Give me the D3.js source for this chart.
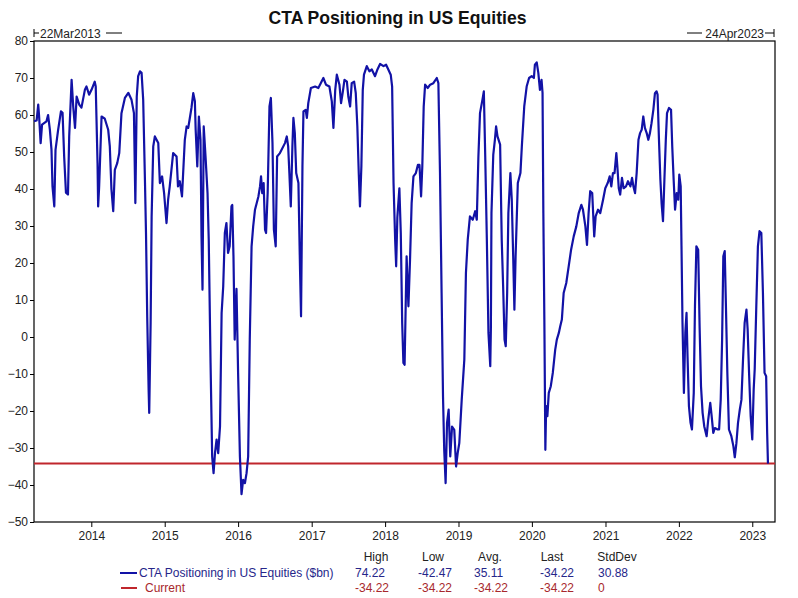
<!DOCTYPE html>
<html>
<head>
<meta charset="utf-8">
<script src="https://cdn.jsdelivr.net/npm/d3@7"></script>
<style>
  body { margin: 0; background: #fff; }
  svg text { font-family: Arial, "Liberation Sans", sans-serif; }
</style>
</head>
<body>
<div id="chart"></div>
<script>
// weekly-ish readings of CTA positioning, $bn
var dates = [
  "2013-03-22","2013-04-04","2013-04-12","2013-04-16","2013-04-24","2013-05-01","2013-05-23","2013-05-31","2013-06-09","2013-06-17",
  "2013-06-22","2013-07-01","2013-07-07","2013-07-20","2013-08-03","2013-08-11","2013-08-19","2013-08-28","2013-09-07","2013-09-13",
  "2013-09-25","2013-10-03","2013-10-12","2013-10-20","2013-11-02","2013-11-13","2013-11-30","2013-12-08","2013-12-21","2014-01-02",
  "2014-01-18","2014-01-23","2014-02-01","2014-02-04","2014-02-09","2014-02-21","2014-03-09","2014-03-26","2014-04-03","2014-04-11",
  "2014-04-20","2014-04-28","2014-05-10","2014-05-20","2014-05-31","2014-06-17","2014-07-04","2014-07-20","2014-08-01","2014-08-08",
  "2014-08-15","2014-08-22","2014-08-31","2014-09-08","2014-09-16","2014-09-25","2014-09-30","2014-10-06","2014-10-13","2014-10-16",
  "2014-10-23","2014-10-28","2014-11-05","2014-11-13","2014-11-30","2014-12-08","2014-12-19","2014-12-29","2015-01-10","2015-01-18",
  "2015-01-26","2015-02-12","2015-03-01","2015-03-08","2015-03-17","2015-03-28","2015-04-11","2015-04-20","2015-04-28","2015-05-06",
  "2015-05-14","2015-05-23","2015-05-31","2015-06-04","2015-06-12","2015-06-20","2015-06-28","2015-07-03","2015-07-08","2015-07-14",
  "2015-07-23","2015-08-02","2015-08-08","2015-08-17","2015-08-25","2015-09-01","2015-09-08","2015-09-16","2015-09-24","2015-10-03",
  "2015-10-11","2015-10-19","2015-10-27","2015-11-04","2015-11-12","2015-11-20","2015-11-29","2015-12-03","2015-12-09","2015-12-15",
  "2015-12-24","2016-01-01","2016-01-10","2016-01-18","2016-01-26","2016-02-04","2016-02-12","2016-02-20","2016-02-28","2016-03-08",
  "2016-03-16","2016-03-25","2016-04-11","2016-04-19","2016-04-24","2016-04-30","2016-05-07","2016-05-14","2016-05-19","2016-05-27",
  "2016-06-05","2016-06-12","2016-06-20","2016-06-27","2016-07-06","2016-07-13","2016-07-27","2016-08-21","2016-08-30","2016-09-06",
  "2016-09-12","2016-09-19","2016-09-27","2016-10-02","2016-10-09","2016-10-16","2016-10-27","2016-11-04","2016-11-09","2016-11-16",
  "2016-11-21","2016-12-02","2016-12-08","2016-12-15","2016-12-28","2017-01-18","2017-02-03","2017-02-15","2017-02-28","2017-03-13",
  "2017-03-30","2017-04-11","2017-04-19","2017-04-28","2017-05-06","2017-05-19","2017-05-27","2017-06-04","2017-06-13","2017-06-25",
  "2017-07-02","2017-07-11","2017-07-19","2017-07-31","2017-08-08","2017-08-16","2017-08-23","2017-08-29","2017-09-05","2017-09-12",
  "2017-09-18","2017-10-02","2017-10-15","2017-10-27","2017-11-12","2017-11-24","2017-12-07","2017-12-24","2018-01-06","2018-01-17",
  "2018-01-29","2018-02-05","2018-02-12","2018-02-20","2018-02-25","2018-03-03","2018-03-13","2018-03-20","2018-03-27","2018-04-02",
  "2018-04-08","2018-04-18","2018-04-27","2018-05-05","2018-05-13","2018-05-22","2018-06-03","2018-06-13","2018-06-21","2018-06-29",
  "2018-07-05","2018-07-12","2018-07-19","2018-08-01","2018-08-13","2018-08-29","2018-09-15","2018-09-23","2018-10-01","2018-10-09",
  "2018-10-16","2018-10-22","2018-10-29","2018-11-05","2018-11-13","2018-11-21","2018-11-30","2018-12-11","2018-12-20","2018-12-28",
  "2019-01-05","2019-01-17","2019-01-30","2019-02-07","2019-02-16","2019-02-27","2019-03-13","2019-03-25","2019-04-02","2019-04-10",
  "2019-04-18","2019-04-30","2019-05-07","2019-05-14","2019-05-22","2019-05-30","2019-06-08","2019-06-11","2019-06-14","2019-06-23",
  "2019-07-01","2019-07-07","2019-07-14","2019-07-27","2019-08-04","2019-08-11","2019-08-18","2019-08-24","2019-08-31","2019-09-06",
  "2019-09-16","2019-09-23","2019-09-30","2019-10-06","2019-10-12","2019-10-23","2019-11-05","2019-11-12","2019-11-24","2019-12-06",
  "2019-12-18","2019-12-31","2020-01-11","2020-01-16","2020-01-25","2020-02-02","2020-02-10","2020-02-18","2020-02-23","2020-02-27",
  "2020-03-03","2020-03-08","2020-03-12","2020-03-18","2020-03-25","2020-04-04","2020-04-14","2020-04-26","2020-05-04","2020-05-14",
  "2020-05-21","2020-05-29","2020-06-07","2020-06-20","2020-07-02","2020-07-14","2020-07-27","2020-08-09","2020-08-21","2020-09-03",
  "2020-09-11","2020-09-23","2020-10-01","2020-10-09","2020-10-17","2020-10-27","2020-11-06","2020-11-13","2020-11-25","2020-12-06",
  "2020-12-20","2020-12-31","2021-01-12","2021-01-22","2021-01-30","2021-02-07","2021-02-15","2021-02-24","2021-03-01","2021-03-08",
  "2021-03-15","2021-03-24","2021-04-01","2021-04-13","2021-04-23","2021-05-05","2021-05-13","2021-05-20","2021-05-28","2021-06-05",
  "2021-06-14","2021-06-22","2021-06-30","2021-07-08","2021-07-16","2021-07-25","2021-08-02","2021-08-10","2021-08-18","2021-08-27",
  "2021-09-04","2021-09-12","2021-09-17","2021-09-24","2021-10-01","2021-10-07","2021-10-14","2021-10-21","2021-10-28","2021-11-03",
  "2021-11-13","2021-11-23","2021-11-29","2021-12-06","2021-12-13","2021-12-21","2021-12-29","2022-01-03","2022-01-10","2022-01-14",
  "2022-01-19","2022-01-26","2022-02-02","2022-02-08","2022-02-13","2022-02-20","2022-02-28","2022-03-07","2022-03-16","2022-03-22",
  "2022-03-29","2022-04-07","2022-04-14","2022-04-21","2022-04-29","2022-05-07","2022-05-19","2022-05-27","2022-06-06","2022-06-13",
  "2022-06-21","2022-06-29","2022-07-13","2022-07-20","2022-07-28","2022-08-04","2022-08-10","2022-08-17","2022-08-23","2022-08-30",
  "2022-09-07","2022-09-19","2022-09-29","2022-10-06","2022-10-14","2022-10-22","2022-10-31","2022-11-08","2022-11-16","2022-11-24",
  "2022-12-03","2022-12-09","2022-12-16","2022-12-24","2023-01-01","2023-01-08","2023-01-13","2023-01-21","2023-01-29","2023-02-06",
  "2023-02-15","2023-02-23","2023-03-03","2023-03-11","2023-03-16","2023-03-20"
];
var positioning = [
  58.3, 58.5, 62.8, 60, 52.4, 57.4, 58.3, 60, 56, 50.6,
  40.7, 35.3, 50.6, 56, 61, 60.6, 48.8, 39, 38.5, 54.2,
  69.5, 62.3, 56.5, 65, 62.8, 62, 66.8, 67.7, 65.5, 66.8,
  69, 67.7, 47, 35.3, 40.7, 59.6, 59, 56, 51.5, 40,
  34, 45.2, 47, 49.7, 60.5, 64.6, 66, 64.1, 60.5, 36.2,
  65, 70.5, 71.8, 71.4, 64.1, 41.6, 28, 5.6, -14.2, -20.5,
  3.8, 32.6, 51.5, 54.2, 52.4, 41.6, 43.4, 38.9, 30.8, 37.1,
  40.7, 49.7, 48.8, 40.7, 42.1, 38, 53.3, 56.9, 56.5, 59.2,
  61.9, 65.9, 63.7, 56, 46.1, 59.6, 53.3, 27.2, 12.8, 56.9,
  48.8, 38.9, 26.3, -7, -32.3, -36.8, -31.4, -27.7, -31.4, -24.2,
  6.5, 13.7, 28.1, 30.8, 22.7, 24.5, 35.3, 35.7, 21.8, -0.7,
  13, -9.7, -32.3, -42.47, -38.6, -39.5, -36.8, -32.3, -0.7, 24.5,
  29.9, 34.4, 38, 40.7, 43.4, 38.9, 41.6, 29, 28.1, 38.9,
  62.3, 64.6, 52.4, 29, 24.5, 48.8, 49.7, 52.4, 54.2, 51.5,
  44.3, 35.3, 51.5, 59.2, 55.1, 44.3, 41.6, 18.2, 5.6, 46.1,
  61, 61.4, 59.2, 63.2, 67.3, 67.7, 67.3, 68.6, 70, 68.2,
  67.7, 63.7, 56.5, 66.8, 70.9, 68.2, 63.2, 66, 69.5, 69,
  65, 62.3, 68.6, 69, 66, 56.9, 44.3, 35.3, 46.1, 66.8,
  70.9, 73.2, 71.8, 72.3, 70.5, 72.3, 73.8, 73.2, 73.6, 72.3,
  70.9, 67.7, 41.6, 26.3, 19.1, 32.4, 40.2, 28.1, 3.8, -7,
  -7.5, 21.8, 8.3, 20.9, 36.2, 43.4, 44.3, 46.5, 46.5, 38,
  46.1, 62.3, 68.2, 67.3, 68.2, 68.6, 70, 68.6, 44.3, 11.9,
  -16, -30.5, -39.5, -23.2, -19.6, -32.3, -24.2, -25.1, -35, -31.4,
  -28.7, -17, -6.1, 17.3, 26.3, 32.6, 31.7, 34, 31.7, 48.8,
  60.5, 64.1, 66.4, 48.8, 26.3, 1.1, -7.9, 2, 33.5, 49.3,
  53.3, 56.9, 54.2, 52, 26.3, 13.7, -0.7, -2.5, 11.9, 33.5,
  44.3, 37.1, 21.8, 7.4, 21.8, 41.6, 44.3, 51.5, 62.3, 67.7,
  70, 70.5, 70, 73.6, 74.22, 71.4, 66.8, 69.5, 66, 33.5,
  4.7, -30.5, -18.7, -21.4, -15.1, -13.3, -9.7, -3.4, -0.7, 1.1,
  2.9, 4.7, 11.9, 14.6, 19.1, 23.6, 27.2, 29.9, 33.5, 35.7,
  34.4, 29.9, 24.9, 33.5, 39.4, 38.9, 27.2, 32.6, 34.4, 33.5,
  37.1, 40.2, 41.6, 43.4, 40.7, 44.3, 44.3, 49.7, 46.1, 40.2,
  38.5, 43, 40.2, 40.7, 42.1, 40.7, 43, 40.7, 38.9, 44.3,
  53.3, 55.1, 56, 59.6, 56.5, 55.1, 53.3, 55.1, 57.8, 61.4,
  65.9, 66.4, 65.5, 53.3, 42.5, 36.2, 31.3, 42.5, 53.3, 60.5,
  61.9, 61.4, 51.5, 42.5, 34.4, 38.9, 37.1, 43.9, 40.7, 24.5,
  3.8, -15.1, 1.1, 6.5, -5.2, -18.7, -23.2, -25, -15.1, 8.3,
  24.5, 23.6, 2.9, -13.3, -20.5, -24.1, -26.8, -22.3, -17.8, -21.4,
  -25.9, -24.6, -25, -25, -17, -0.7, 21.8, 23.2, 8.3, -9.7,
  -25, -26.8, -29.5, -32.5, -28.7, -23.2, -19.6, -17, -6.1, 3.8,
  7.4, 2, -9.7, -21.4, -27.7, -14.2, -8.8, 8.3, 24.5, 28.6,
  28.1, 11.9, -9.7, -10.6, -25.9, -34.22
];
var currentLevel = -34.22;

var yTicks = [80, 70, 60, 50, 40, 30, 20, 10, 0, -10, -20, -30, -40, -50];
var yearTicks = [2014, 2015, 2016, 2017, 2018, 2019, 2020, 2021, 2022, 2023];

var statHeaders = ["High", "Low", "Avg.", "Last", "StdDev"];
var seriesStats = ["74.22", "-42.47", "35.11", "-34.22", "30.88"];
var currentStats = ["-34.22", "-34.22", "-34.22", "-34.22", "0"];
var seriesName = "CTA Positioning in US Equities ($bn)";
var currentName = "Current";

var blue = "#1212a6", red = "#c0262c";
var width = 798, height = 598;
var plotL = 34, plotR = 775, plotT = 41, plotB = 522;

var parse = d3.timeParse("%Y-%m-%d");
var data = dates.map(function (d, i) { return { date: parse(d), value: positioning[i] }; });
var start = parse("2013-03-22"), end = parse("2023-04-24");

var svg = d3.select("#chart").append("svg")
  .attr("width", width).attr("height", height);

var x = d3.scaleTime().domain([start, end]).range([plotL, plotR]);
var y = d3.scaleLinear().domain([-50, 80]).range([plotB, plotT]);

svg.append("text")
  .attr("x", 397.5).attr("y", 24)
  .attr("text-anchor", "middle")
  .attr("font-size", 19).attr("font-weight", "bold")
  .attr("textLength", 258).attr("lengthAdjust", "spacingAndGlyphs")
  .attr("fill", "#111")
  .text("CTA Positioning in US Equities");

svg.append("g")
  .attr("transform", "translate(" + plotL + ",0)")
  .call(d3.axisLeft(y).tickValues(yTicks).tickSize(4).tickPadding(2));
svg.append("g")
  .attr("transform", "translate(0," + plotB + ")")
  .call(d3.axisBottom(x)
    .tickValues(yearTicks.map(function (yr) { return new Date(yr, 0, 1); }))
    .tickFormat(d3.timeFormat("%Y")).tickSize(5).tickPadding(4));
svg.selectAll(".domain").remove();
svg.selectAll(".tick text").attr("font-size", 12).attr("font-family", "Arial, 'Liberation Sans', sans-serif").attr("fill", "#222");
svg.selectAll(".tick line").attr("stroke", "#000");

// frame
svg.append("rect")
  .attr("x", plotL).attr("y", plotT)
  .attr("width", plotR - plotL).attr("height", plotB - plotT)
  .attr("fill", "none").attr("stroke", "#000").attr("stroke-width", 1.2);

// date range markers above the frame
var fmt = d3.timeFormat("%d%b%Y");
var marks = svg.append("g").attr("stroke", "#000").attr("stroke-width", 1);
marks.append("line").attr("x1", x(start)).attr("x2", x(start)).attr("y1", 29).attr("y2", 37);
marks.append("line").attr("x1", x(start)).attr("x2", x(start) + 5).attr("y1", 33).attr("y2", 33);
marks.append("line").attr("x1", x(start) + 72).attr("x2", x(start) + 88).attr("y1", 33).attr("y2", 33);
marks.append("line").attr("x1", x(end) - 1).attr("x2", x(end) - 1).attr("y1", 29).attr("y2", 37);
marks.append("line").attr("x1", x(end) - 10).attr("x2", x(end) - 1).attr("y1", 33).attr("y2", 33);
marks.append("line").attr("x1", x(end) - 88).attr("x2", x(end) - 73).attr("y1", 33).attr("y2", 33);
svg.append("text").attr("x", x(start) + 6).attr("y", 37.5)
  .attr("font-size", 12).attr("fill", "#222").text(fmt(start));
svg.append("text").attr("x", x(end) - 11).attr("y", 37.5).attr("text-anchor", "end")
  .attr("font-size", 12).attr("fill", "#222").text(fmt(end));

// current level
svg.append("line")
  .attr("x1", plotL).attr("x2", plotR)
  .attr("y1", y(currentLevel)).attr("y2", y(currentLevel))
  .attr("stroke", red).attr("stroke-width", 2);

var line = d3.line()
  .x(function (d) { return x(d.date); })
  .y(function (d) { return y(d.value); });

svg.append("path")
  .datum(data)
  .attr("d", line)
  .attr("fill", "none")
  .attr("stroke", blue)
  .attr("stroke-width", 2.2)
  .attr("stroke-linejoin", "round");

// legend / stats table
var colX = [355, 418, 474, 540, 598];
var headX = [376, 433, 490, 552, 617];
var legend = svg.append("g").attr("font-size", 12);
legend.selectAll(".hd").data(statHeaders).enter().append("text")
  .attr("x", function (d, i) { return headX[i]; })
  .attr("y", 561).attr("text-anchor", "middle").attr("fill", "#222")
  .text(function (d) { return d; });

legend.append("line").attr("x1", 120).attr("x2", 137).attr("y1", 573).attr("y2", 573)
  .attr("stroke", blue).attr("stroke-width", 2);
legend.append("text").attr("x", 139).attr("y", 577).attr("fill", "#26268a").text(seriesName);
legend.selectAll(".s1").data(seriesStats).enter().append("text")
  .attr("x", function (d, i) { return colX[i]; })
  .attr("y", 577).attr("fill", "#26268a")
  .text(function (d) { return d; });

legend.append("line").attr("x1", 121).attr("x2", 137).attr("y1", 588).attr("y2", 588)
  .attr("stroke", red).attr("stroke-width", 2);
legend.append("text").attr("x", 145).attr("y", 592).attr("fill", "#a8282c").text(currentName);
legend.selectAll(".s2").data(currentStats).enter().append("text")
  .attr("x", function (d, i) { return colX[i]; })
  .attr("y", 592).attr("fill", "#a8282c")
  .text(function (d) { return d; });
</script>
</body>
</html>
